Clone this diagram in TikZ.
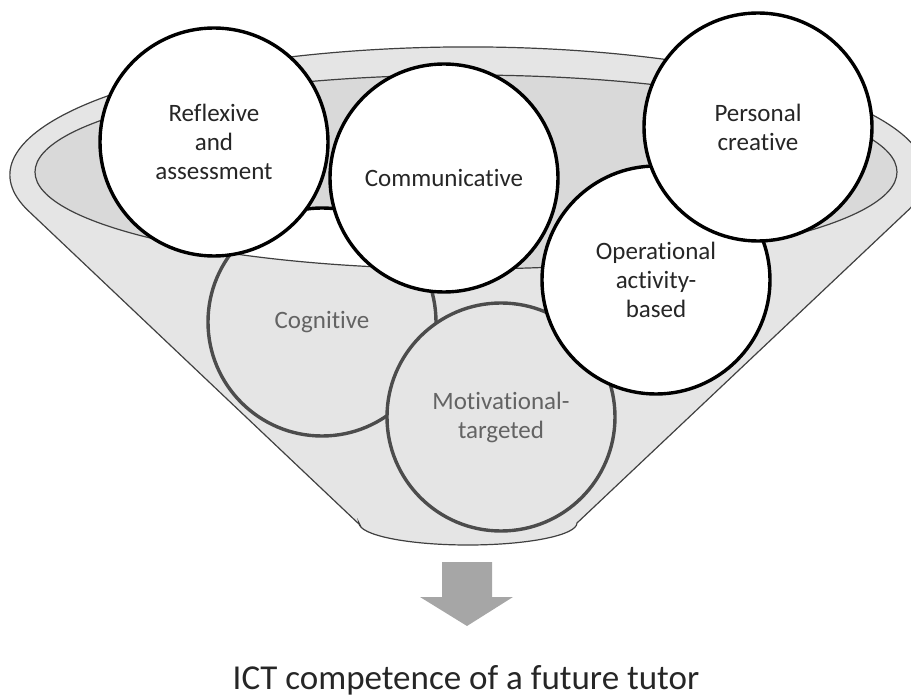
\documentclass[tikz,border=0pt]{standalone}
\usepackage{fontspec}
\setmainfont[Ligatures=NoCommon]{Carlito}
\usepackage{tikz}
\definecolor{insidegray}{HTML}{D9D9D9}
\definecolor{arrowgray}{HTML}{A6A6A6}
\definecolor{labelgray}{HTML}{262626}
\begin{document}
\begin{tikzpicture}[x=0.5pt,y=-0.5pt,
  ball/.style={circle,draw=black,line width=1.7pt,fill=white,minimum size=114pt,
    inner sep=0pt,align=center,text=labelgray,font=\fontsize{12.5}{14.5}\selectfont},
  funnelline/.style={draw=black!75,line width=0.6pt},
  funnelfront/.style={fill=black!25,fill opacity=0.4,even odd rule}]
\useasboundingbox (0,0) rectangle (911,695);
\clip (0,0) rectangle (911,695);
\fill[insidegray] (466,172) ellipse [x radius=431,y radius=97];
\node[ball] (cogn) at (322,322) {Cognitive};
\node[ball] (motiv) at (501,417) {Motivational-\\targeted};
\path[funnelfront] (360,525) -- (27.5,210)
  arc[start angle=164.1,end angle=375.9,x radius=458,y radius=128] -- (577,523)
  arc[start angle=0,end angle=180,x radius=109,y radius=22] -- cycle
  (466,172) ellipse [x radius=431,y radius=97];
\draw[funnelline] (360,525) -- (27.5,210)
  arc[start angle=164.1,end angle=375.9,x radius=458,y radius=128] -- (577,523)
  arc[start angle=0,end angle=180,x radius=109,y radius=22] -- cycle;
\draw[funnelline] (466,172) ellipse [x radius=431,y radius=97];
\node[ball] (refl) at (214,142) {Reflexive\\and\\assessment};
\node[ball] (comm) at (444,178) {Communicative};
\node[ball] (oper) at (656,280) {Operational\\activity-\\based};
\node[ball] (pers) at (758,127) {Personal\\creative};
\fill[arrowgray] (442,562) -- (492,562) -- (492,597) -- (513,597) -- (467,626)
  -- (420,597) -- (442,597) -- cycle;
\node[text=labelgray,font=\fontsize{17.5}{20}\selectfont] (result) at (466,680)
  {ICT competence of a future tutor};
\end{tikzpicture}
\end{document}
